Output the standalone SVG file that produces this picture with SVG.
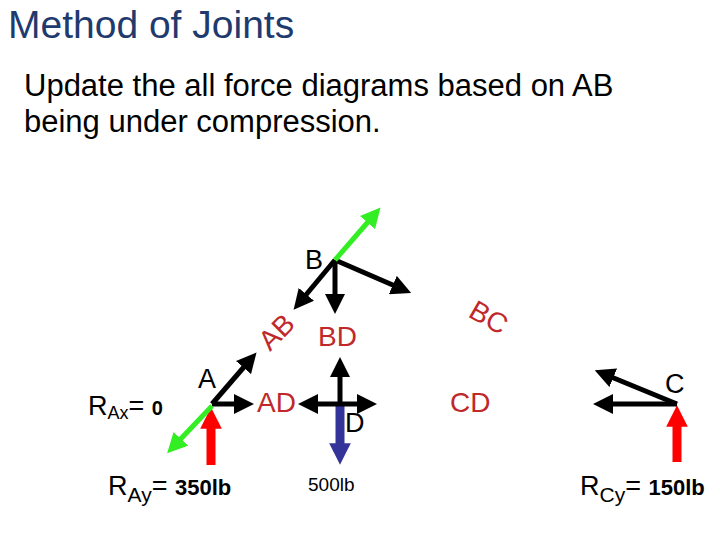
<svg xmlns="http://www.w3.org/2000/svg" width="720" height="540" viewBox="0 0 720 540">
<style>
text{font-family:"Liberation Sans",Arial,sans-serif}
.k{stroke:#000;stroke-width:5;fill:none}
.g{stroke:#33ee22;stroke-width:5;fill:none}
.r{stroke:#ff0000;stroke-width:9;fill:none}
.b{stroke:#333399;stroke-width:9;fill:none}
.lab{fill:#c0282a;font-size:28px}
.blk{fill:#000;font-size:27px}
</style>
<defs>
<marker id="mk" markerWidth="4" markerHeight="4" refX="2" refY="2" orient="auto" markerUnits="strokeWidth"><path d="M0,0L4,2L0,4z" fill="#000"/></marker>
<marker id="mg" markerWidth="4" markerHeight="4" refX="2" refY="2" orient="auto" markerUnits="strokeWidth"><path d="M0,0L4,2L0,4z" fill="#33ee22"/></marker>
<marker id="mr" markerWidth="2.4" markerHeight="2.4" refX="1.2" refY="1.2" orient="auto" markerUnits="strokeWidth"><path d="M0,0L2.4,1.2L0,2.4z" fill="#ff0000"/></marker>
<marker id="mb" markerWidth="2.4" markerHeight="2.4" refX="1.2" refY="1.2" orient="auto" markerUnits="strokeWidth"><path d="M0,0L2.4,1.2L0,2.4z" fill="#333399"/></marker>
</defs>
<rect width="720" height="540" fill="#fff"/>
<text x="8" y="38" font-size="39" fill="#1f3a6e">Method of Joints</text>
<text x="24" y="96" font-size="31" fill="#000">Update the all force diagrams based on AB</text>
<text x="24" y="132" font-size="31" fill="#000">being under compression.</text>
<g id="connectors">
<line class="r" x1="211" y1="465" x2="211" y2="418" marker-end="url(#mr)"/>
<line class="r" x1="677" y1="462" x2="677" y2="416" marker-end="url(#mr)"/>
<line class="b" x1="340" y1="406" x2="340" y2="454" marker-end="url(#mb)"/>
<line class="k" x1="212" y1="404" x2="250" y2="360" marker-end="url(#mk)"/>
<line class="k" x1="212" y1="404" x2="244" y2="404" marker-end="url(#mk)"/>
<line class="g" x1="212" y1="406" x2="174" y2="446" marker-end="url(#mg)"/>
<line class="k" x1="335" y1="260" x2="300" y2="302" marker-end="url(#mk)"/>
<line class="k" x1="335" y1="260" x2="335" y2="304" marker-end="url(#mk)"/>
<line class="k" x1="335" y1="260" x2="402" y2="289" marker-end="url(#mk)"/>
<line class="g" x1="335" y1="260" x2="374" y2="215" marker-end="url(#mg)"/>
<line class="k" x1="340" y1="404" x2="308" y2="404" marker-end="url(#mk)"/>
<line class="k" x1="340" y1="404" x2="367" y2="404" marker-end="url(#mk)"/>
<line class="k" x1="340" y1="404" x2="340" y2="367" marker-end="url(#mk)"/>
<line class="k" x1="677" y1="404" x2="603" y2="404" marker-end="url(#mk)"/>
<line class="k" x1="677" y1="404" x2="604" y2="374" marker-end="url(#mk)"/>
</g>
<g id="A"><text class="blk" x="198" y="388">A</text></g>
<g id="B"><text class="blk" x="305" y="269">B</text></g>
<g id="C"><text class="blk" x="665" y="393">C</text></g>
<g id="D"><text class="blk" x="345" y="432">D</text></g>
<g id="labels">
<text class="lab" transform="translate(270,352) rotate(-45)">AB</text>
<text class="lab" x="318" y="346">BD</text>
<text class="lab" transform="translate(467,316) rotate(30)">BC</text>
<text class="lab" x="257" y="412">AD</text>
<text class="lab" x="450" y="412">CD</text>
</g>
<g id="reactions">
<text x="88" y="415" font-size="27">R<tspan font-size="18" dy="4">Ax</tspan><tspan dy="-4">= </tspan><tspan font-weight="bold" font-size="20">0</tspan></text>
<text x="108" y="495" font-size="27">R<tspan font-size="21" dy="7">Ay</tspan><tspan dy="-7">= </tspan><tspan font-weight="bold" font-size="22">350lb</tspan></text>
<text x="308" y="491" font-size="19">500lb</text>
<text x="580" y="495" font-size="27">R<tspan font-size="21" dy="7">Cy</tspan><tspan dy="-7">= </tspan><tspan font-weight="bold" font-size="22">150lb</tspan></text>
</g>
</svg>
